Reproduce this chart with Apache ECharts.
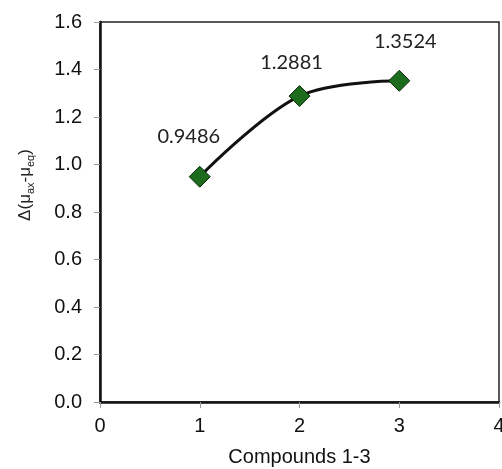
<!DOCTYPE html>
<html>
<head>
<meta charset="utf-8">
<script src="https://cdn.jsdelivr.net/npm/echarts@6/dist/echarts.min.js"></script>
<style>
  html, body { margin: 0; padding: 0; background: #fff; }
  #chart { width: 502px; height: 469px; }
</style>
</head>
<body>
<div id="chart"></div>
<script>
// compound index and value
const compounds = [1, 2, 3]
const deltaMu = [0.9486, 1.2881, 1.3524]
const pointLabels = ['0.9486', '1.2881', '1.3524']
const labelOffsets = [[-11, -40], [-8, -34], [6, -39]]

const myChart = echarts.init(document.getElementById('chart'))

const option = {
  backgroundColor: '#fff',
  animation: false,
  grid: {
    left: 100, right: 3, top: 22, bottom: 67,
    outerBoundsMode: 'none',
    containLabel: false,
    show: true,
    borderColor: '#222',
    borderWidth: 1.5
  },
  graphic: [
    {
      type: 'text',
      x: 25,
      y: 185,
      rotation: Math.PI / 2,
      style: {
        text: '{n|Δ(μ}{s|ax}{n|-μ}{s|eq}{n|)}',
        align: 'center',
        verticalAlign: 'middle',
        rich: {
          n: { fontFamily: 'Liberation Sans', fontSize: 17, fill: '#222', lineHeight: 22, verticalAlign: 'middle' },
          s: { fontFamily: 'Liberation Sans', fontSize: 11, fill: '#222', lineHeight: 22, verticalAlign: 'bottom', padding: [9, 0, 0, 0] }
        }
      }
    }
  ],
  xAxis: {
    type: 'value',
    min: 0,
    max: 4,
    interval: 1,
    name: 'Compounds 1-3',
    nameLocation: 'middle',
    nameGap: 45,
    nameTextStyle: { fontFamily: 'Liberation Sans', fontSize: 20, color: '#111' },
    axisLine: { lineStyle: { color: '#111', width: 2.5 } },
    axisTick: { show: true, inside: false, length: 6, lineStyle: { color: '#999', width: 1 } },
    axisLabel: { fontFamily: 'Liberation Sans', fontSize: 20, color: '#111', margin: 14 },
    splitLine: { show: false }
  },
  yAxis: {
    type: 'value',
    min: 0,
    max: 1.6,
    interval: 0.2,
    axisLine: { show: true, lineStyle: { color: '#111', width: 2.5 } },
    axisTick: { show: true, inside: false, length: 6, lineStyle: { color: '#999', width: 1 } },
    axisLabel: {
      fontFamily: 'Liberation Sans', fontSize: 20, color: '#111', margin: 18,
      formatter: v => v.toFixed(1)
    },
    splitLine: { show: false }
  },
  series: [
    {
      type: 'line',
      smooth: 0.35,
      data: compounds.map((c, i) => ({
        value: [c, deltaMu[i]],
        label: {
          show: true,
          formatter: pointLabels[i],
          position: 'inside',
          offset: labelOffsets[i]
        }
      })),
      symbol: 'diamond',
      symbolSize: 21,
      lineStyle: { color: '#111', width: 3 },
      itemStyle: { color: '#1d6b1d', borderColor: '#0a2a0a', borderWidth: 1 },
      label: {
        fontFamily: 'Lato',
        fontSize: 20,
        color: '#222'
      },
      z: 3
    }
  ]
}

myChart.setOption(option)
</script>
</body>
</html>
